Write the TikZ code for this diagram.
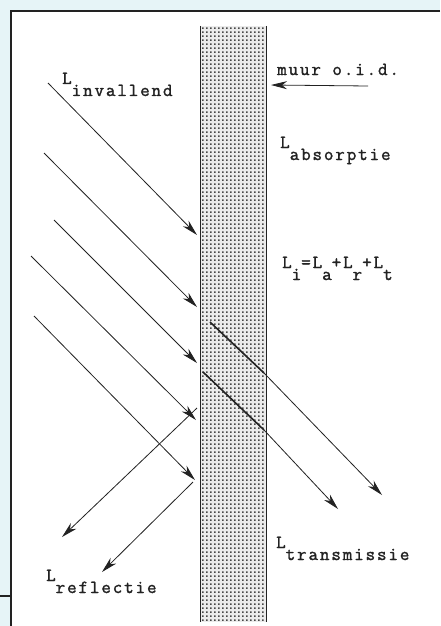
\documentclass[tikz,border=0pt]{standalone}
\usepackage{fontspec}
\newfontfamily\twfont{Latin Modern Mono}[LetterSpace=10.2,FakeBold=1.6]
\usetikzlibrary{arrows.meta,patterns}
\definecolor{cyanbg}{HTML}{E6F4F7}
\definecolor{ink}{HTML}{222222}
\pgfdeclarepatternformonly{walldots}{\pgfpointorigin}{\pgfpoint{4.3pt}{4.3pt}}{\pgfpoint{4.3pt}{4.3pt}}{\pgfpathrectangle{\pgfpoint{1.2pt}{1.2pt}}{\pgfpoint{1.9pt}{1.9pt}}\pgfusepath{fill}}
\newcommand{\subL}[1]{L\raisebox{-12pt}{#1}}
\begin{document}
\begin{tikzpicture}[x=1pt,y=-1pt,
  lbl/.style={anchor=base west,inner sep=0pt,text=ink,font=\fontsize{18.5}{20}\twfont},
  ray/.style={line width=0.8pt,draw=ink},
  arr/.style={ray,-{Stealth[length=16pt,width=8pt,inset=5pt]}},
  thickray/.style={line width=1.6pt,draw=ink},
  wallside/.style={line width=0.9pt,draw=ink}]

\useasboundingbox (0,0) rectangle (440,626);
\fill[cyanbg] (0,0) rectangle (440,626);
\fill[white] (11,11) rectangle (440,626);
\draw[line width=2pt,ink] (440,11) -- (11,11) -- (11,626);
\draw[line width=1.5pt,ink] (0,596) -- (11,596);

% wall
\coordinate (wtl) at (200,26);
\coordinate (wbl) at (200,622);
\coordinate (wtr) at (266,26);
\coordinate (wbr) at (266,622);
\fill[black!8] (wtl) rectangle (wbr);
\path[pattern=walldots,pattern color=black!72] (wtl) rectangle (wbr);
\draw[wallside] (wtl) -- (wbl);
\draw[wallside] (wtr) -- (wbr);

% incident rays
\coordinate (i1s) at (48,83);  \coordinate (i1e) at (197,235);
\coordinate (i2s) at (44,153); \coordinate (i2e) at (197,307);
\coordinate (i3s) at (54,220); \coordinate (i3e) at (197,363);
\coordinate (i4s) at (31,256); \coordinate (i4e) at (196,420);
\coordinate (i5s) at (34,316); \coordinate (i5e) at (195,480);
\foreach \k in {1,...,5} \draw[arr] (i\k s) -- (i\k e);

% reflected rays
\coordinate (r1s) at (197,408); \coordinate (r1e) at (62,537);
\coordinate (r2s) at (193,482); \coordinate (r2e) at (102,572);
\draw[arr] (r1s) -- (r1e);
\draw[arr] (r2s) -- (r2e);

% transmitted rays
\coordinate (t1s) at (210,322); \coordinate (t1m) at (264,373); \coordinate (t1e) at (382,495);
\coordinate (t2s) at (203,372); \coordinate (t2m) at (264,430); \coordinate (t2e) at (338,509);
\draw[thickray] (t1s) -- (t1m);
\draw[thickray] (t2s) -- (t2m);
\draw[arr] (t1m) -- (t1e);
\draw[arr] (t2m) -- (t2e);

% wall pointer
\coordinate (m1) at (368,86); \coordinate (m2) at (271,85);
\draw[arr] (m1) -- (m2);

% labels
\node[lbl] (muur) at (277,75) {muur o.i.d.};
\node[lbl] (linv) at (62,84) {\subL{invallend}};
\node[lbl] (labs) at (280,148) {\subL{absorptie}};
\node[lbl] (leq) at (282,268) {\subL{i}=\subL{a}+\subL{r}+\subL{t}};
\node[lbl] (ltra) at (276,548) {\subL{transmissie}};
\node[lbl] (lref) at (46,581) {\subL{reflectie}};
\end{tikzpicture}
\end{document}
